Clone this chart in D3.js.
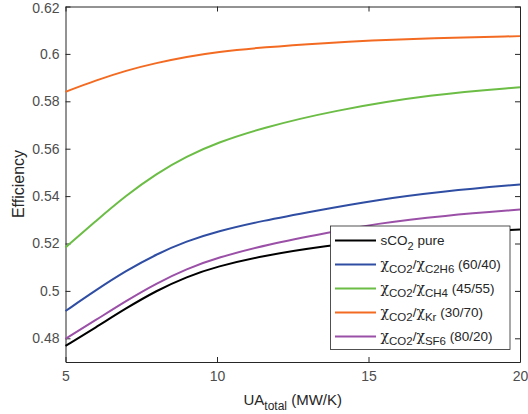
<!DOCTYPE html>
<html>
<head>
<meta charset="utf-8">
<script src="https://cdn.jsdelivr.net/npm/d3@7"></script>
<style>
  body { margin: 0; background: #fff; }
  text { font-family: "Liberation Sans", Arial, sans-serif; }
</style>
</head>
<body>
<svg id="chart" width="528" height="414"></svg>
<script>
// data (UA in MW/K, efficiency)
var uaPure = [5, 6, 7, 8, 9, 10, 11.5, 13.5, 16, 18, 20];
var effPure = [0.4768, 0.4846, 0.4927, 0.5001, 0.5060, 0.5103, 0.5148, 0.5189, 0.5226, 0.5246, 0.5259];

var uaC2H6 = [5, 6, 7, 8, 9, 10, 11.5, 13.25, 15.2, 17.5, 20];
var effC2H6 = [0.4915, 0.5003, 0.5085, 0.5155, 0.5210, 0.5251, 0.5296, 0.5338, 0.5383, 0.5421, 0.5449];

var uaCH4 = [5, 6, 7, 8, 9, 10, 11.5, 13.8, 17.1, 20];
var effCH4 = [0.5183, 0.5295, 0.5403, 0.5495, 0.5568, 0.5625, 0.5688, 0.5760, 0.5830, 0.5859];

var uaKr = [5, 6, 7, 8, 9, 10, 11.5, 13.7, 15, 17, 20];
var effKr = [0.5840, 0.5888, 0.5930, 0.5962, 0.5988, 0.6008, 0.6028, 0.6047, 0.6056, 0.6066, 0.6075];

var uaSF6 = [5, 6, 7, 8, 9, 10, 11.7, 13.7, 15.2, 17.5, 20];
var effSF6 = [0.4798, 0.4877, 0.4958, 0.5032, 0.5093, 0.5140, 0.5197, 0.5247, 0.5283, 0.5318, 0.5343];

var xTicks = [5, 10, 15, 20];
var yTicks = [0.48, 0.5, 0.52, 0.54, 0.56, 0.58, 0.6, 0.62];

var series = [
  { name: 'pure', ua: uaPure, eff: effPure, color: '#000000', gas: null, ratio: '' },
  { name: 'C2H6', ua: uaC2H6, eff: effC2H6, color: '#2f4ea3', gas: 'C2H6', ratio: ' (60/40)' },
  { name: 'CH4', ua: uaCH4, eff: effCH4, color: '#6bbd45', gas: 'CH4', ratio: ' (45/55)' },
  { name: 'Kr', ua: uaKr, eff: effKr, color: '#f36b22', gas: 'Kr', ratio: ' (30/70)' },
  { name: 'SF6', ua: uaSF6, eff: effSF6, color: '#9b50a7', gas: 'SF6', ratio: ' (80/20)' }
];

var svg = d3.select('#chart'),
  marginLeft = 65.5,
  marginTop = 6.5,
  plotRight = 520,
  plotBottom = 362;

var x = d3.scaleLinear().domain([5, 20]).range([marginLeft, plotRight]);
var y = d3.scaleLinear().domain([0.47, 0.62]).range([plotBottom, marginTop]);

var axisColor = '#262626', labelColor = '#4d4d4d';

// axes (ticks pointing inward, box on)
var axBottom = svg.append('g').attr('transform', 'translate(0,' + plotBottom + ')')
  .call(d3.axisBottom(x).tickValues(xTicks).tickSizeInner(-5).tickSizeOuter(0).tickPadding(9));
var axTop = svg.append('g').attr('transform', 'translate(0,' + marginTop + ')')
  .call(d3.axisTop(x).tickValues(xTicks).tickSizeInner(-5).tickSizeOuter(0).tickFormat(''));
var axLeft = svg.append('g').attr('transform', 'translate(' + marginLeft + ',0)')
  .call(d3.axisLeft(y).tickValues(yTicks).tickSizeInner(-5).tickSizeOuter(0).tickPadding(6)
    .tickFormat(function (d) { return String(+d.toFixed(2)); }));
var axRight = svg.append('g').attr('transform', 'translate(' + plotRight + ',0)')
  .call(d3.axisRight(y).tickValues(yTicks).tickSizeInner(-5).tickSizeOuter(0).tickFormat(''));

[axBottom, axTop, axLeft, axRight].forEach(function (g) {
  g.attr('font-size', 14).attr('font-family', '"Liberation Sans", Arial, sans-serif');
  g.select('.domain').attr('stroke', axisColor);
  g.selectAll('.tick line').attr('stroke', axisColor);
  g.selectAll('.tick text').attr('fill', labelColor).attr('font-size', 14);
});
// keep the top label inside the picture
axLeft.selectAll('.tick text').filter(function (d) { return d === 0.62; }).attr('dy', '0.4em');

// curves
var line = d3.line()
  .x(function (d) { return x(d[0]); })
  .y(function (d) { return y(d[1]); })
  .curve(d3.curveBasis);

var drawOrder = ['CH4', 'Kr', 'C2H6', 'SF6', 'pure'];
drawOrder.forEach(function (n) {
  var s = series.find(function (d) { return d.name === n; });
  svg.append('path')
    .datum(d3.zip(s.ua, s.eff))
    .attr('fill', 'none')
    .attr('stroke', s.color)
    .attr('stroke-width', 2)
    .attr('d', line);
});

// axis labels
svg.append('text')
  .attr('transform', 'translate(24,184) rotate(-90)')
  .attr('text-anchor', 'middle')
  .attr('fill', '#262626')
  .style('font-size', '16px')
  .text('Efficiency');

var xl = svg.append('text')
  .attr('x', (marginLeft + plotRight) / 2)
  .attr('y', 404.5)
  .attr('text-anchor', 'middle')
  .attr('fill', '#262626')
  .style('font-size', '15px');
xl.append('tspan').text('UA');
xl.append('tspan').attr('dy', 5).style('font-size', '12px').text('total');
xl.append('tspan').attr('dy', -5).text(' (MW/K)');

// legend
var lg = svg.append('g').attr('transform', 'translate(330.5,226)');
lg.append('rect')
  .attr('width', 179.5).attr('height', 123.5)
  .attr('fill', '#fff').attr('stroke', '#262626').attr('stroke-width', 0.8);

series.forEach(function (s, i) {
  var ly = 14.5 + i * 24;
  lg.append('line')
    .attr('x1', 4.5).attr('x2', 45.5).attr('y1', ly).attr('y2', ly)
    .attr('stroke', s.color).attr('stroke-width', 2);
  var t = lg.append('text')
    .attr('x', 50).attr('y', ly + 4)
    .attr('fill', '#262626')
    .style('font-size', '13.5px');
  if (s.gas === null) {
    t.append('tspan').text('sCO');
    t.append('tspan').attr('dy', 5).style('font-size', '11px').text('2');
    t.append('tspan').attr('dy', -5).text(' pure');
  } else {
    t.append('tspan').text('χ').style('font-family', '"DejaVu Serif", serif').style('font-size', '14px');
    t.append('tspan').attr('dy', 4).style('font-size', '11.5px').text('CO2');
    t.append('tspan').attr('dy', -4).text('/');
    t.append('tspan').text('χ').style('font-family', '"DejaVu Serif", serif').style('font-size', '14px');
    t.append('tspan').attr('dy', 4).style('font-size', '11.5px').text(s.gas);
    t.append('tspan').attr('dy', -4).text(s.ratio);
  }
});
</script>
</body>
</html>
